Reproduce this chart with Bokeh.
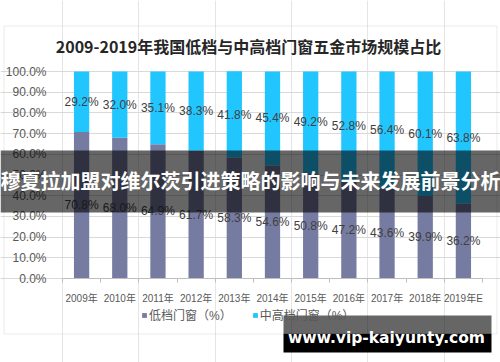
from bokeh.plotting import figure
from bokeh.models import (ColumnDataSource, LabelSet, Label, BoxAnnotation, Legend,
                          LegendItem, FixedTicker, PrintfTickFormatter, Range1d,
                          LinearAxis, Grid)
from bokeh.core.properties import value
from bokeh.embed import file_html
from bokeh.resources import INLINE

# ---- data ----
years = ["2009年", "2010年", "2011年", "2012年", "2013年", "2014年",
         "2015年", "2016年", "2017年", "2018年", "2019年E"]
low = [70.8, 68.0, 64.9, 61.7, 58.3, 54.6, 50.8, 47.2, 43.6, 39.9, 36.2]
high = [29.2, 32.0, 35.1, 38.3, 41.8, 45.4, 49.2, 52.8, 56.4, 60.1, 63.8]
y_ticks = [0, 10, 20, 30, 40, 50, 60, 70, 80, 90, 100]
series_names = ["低档门窗（%）", "中高档门窗（%）"]
title_text = "2009-2019年我国低档与中高档门窗五金市场规模占比"
banner_text = "穆夏拉加盟对维尔茨引进策略的影响与未来发展前景分析"
watermark_text = "www.vip-kaiyunty.com"

LOW_C = "#767BA1"
HIGH_C = "#22C6FE"
CJK = "Liberation Sans, Noto Sans CJK SC"

n = len(years)
xs = [i + 0.5 for i in range(n)]
src = ColumnDataSource(dict(
    x=xs, low=low, high=high,
    top=[a + b for a, b in zip(low, high)],
    low_mid=[a / 2 for a in low],
    high_mid=[a + b / 2 for a, b in zip(low, high)],
    low_lbl=[f"{v:.1f}%" for v in low],
    high_lbl=[f"{v:.1f}%" for v in high],
))

# frame covers the whole canvas; plot area is 62..482 x 71..278 px
W, H = 500, 362
PX_X = 420 / n
PX_Y = 2.07
p = figure(width=W, height=H, output_backend="svg", toolbar_location=None,
           x_axis_location=None, y_axis_location=None,
           x_range=Range1d(-62 / PX_X, n + (W - 482) / PX_X),
           y_range=Range1d(-(H - 278) / PX_Y, 100 + 71 / PX_Y),
           min_border=0)
p.outline_line_color = None
p.background_fill_color = "white"
p.border_fill_color = "white"
p.title.visible = False

r_low = p.vbar(x="x", width=0.4, bottom=0, top="low", source=src,
               fill_color=LOW_C, line_color=None)
r_high = p.vbar(x="x", width=0.4, bottom="low", top="top", source=src,
                fill_color=HIGH_C, line_color=None)

# y axis
yaxis = LinearAxis(fixed_location=0, bounds=(0, 100),
                   ticker=FixedTicker(ticks=y_ticks),
                   formatter=PrintfTickFormatter(format="%.1f%%"))
yaxis.axis_line_color = None
yaxis.major_tick_line_color = None
yaxis.minor_tick_line_color = None
yaxis.major_label_standoff = 10
yaxis.major_label_text_font = "Liberation Sans"
yaxis.major_label_text_font_size = "12px"
yaxis.major_label_text_color = "#595959"
p.add_layout(yaxis, "left")

p.add_layout(Grid(dimension=1, ticker=FixedTicker(ticks=y_ticks), bounds=(0, n),
                  grid_line_color="#d9d9d9", grid_line_width=1))

# x axis
xaxis = LinearAxis(fixed_location=0, bounds=(0, n),
                   ticker=FixedTicker(ticks=xs, minor_ticks=list(range(n + 1))))
xaxis.major_label_overrides = {x: y for x, y in zip(xs, years)}
xaxis.axis_line_color = "#bfbfbf"
xaxis.major_tick_line_color = None
xaxis.minor_tick_line_color = "#bfbfbf"
xaxis.minor_tick_in = 0
xaxis.minor_tick_out = 4
xaxis.major_label_standoff = 8
xaxis.major_label_text_font = CJK
xaxis.major_label_text_font_size = "10px"
xaxis.major_label_text_color = "#595959"
p.add_layout(xaxis, "below")

# bar labels
for ycol, tcol in (("low_mid", "low_lbl"), ("high_mid", "high_lbl")):
    p.add_layout(LabelSet(x="x", y=ycol, text=tcol, source=src,
                          text_align="center", text_baseline="middle",
                          text_font=value("Liberation Sans"),
                          text_font_size="12px", text_color="#404040"))

# legend
legend = Legend(items=[LegendItem(label=series_names[0], renderers=[r_low]),
                       LegendItem(label=series_names[1], renderers=[r_high])],
                orientation="horizontal", location=(141, 39),
                glyph_width=6, glyph_height=6, label_standoff=2, spacing=20,
                padding=0, margin=0, label_height=12,
                label_text_font=CJK, label_text_font_size="12px",
                label_text_color="#595959",
                border_line_color=None, background_fill_alpha=0)
p.add_layout(legend)


def sbox(left, right, top, bottom, **kw):
    return BoxAnnotation(left=left, right=right, top=H - top, bottom=H - bottom,
                         left_units="screen", right_units="screen",
                         top_units="screen", bottom_units="screen", **kw)


# outer chart border
p.add_layout(sbox(3.5, 496.5, 25.5, 333.5, fill_alpha=0, line_color="#bcbcbc",
                  line_width=1, level="underlay"))

# title
p.add_layout(Label(x=248, y=H - 45, x_units="screen", y_units="screen",
                   text=title_text, text_align="center", text_baseline="middle",
                   text_font="Noto Sans CJK SC", text_font_style="bold",
                   text_font_size="16px", text_color="#262626"))

# banner overlay
p.add_layout(sbox(0, W, 150, 212, fill_color="black", fill_alpha=0.6,
                  line_color=None, level="overlay"))
p.add_layout(Label(x=250, y=H - 180, x_units="screen", y_units="screen",
                   text=banner_text, text_align="center", text_baseline="middle",
                   text_font="Noto Sans CJK SC", text_font_style="bold",
                   text_font_size="20px", text_color="white", level="overlay"))

# watermark
p.add_layout(sbox(283, 491, 315, 333, fill_color="black", fill_alpha=0.6,
                  line_color=None, level="overlay"))
p.add_layout(sbox(283, 491, 333, 352, fill_color="black", fill_alpha=1,
                  line_color=None, level="overlay"))
p.add_layout(Label(x=386, y=H - 337, x_units="screen", y_units="screen",
                   text=watermark_text, text_align="center", text_baseline="middle",
                   text_font="DejaVu Sans", text_font_style="bold",
                   text_font_size="15.5px", text_color="white", level="overlay"))

open("out.html", "w").write(file_html(p, INLINE))
